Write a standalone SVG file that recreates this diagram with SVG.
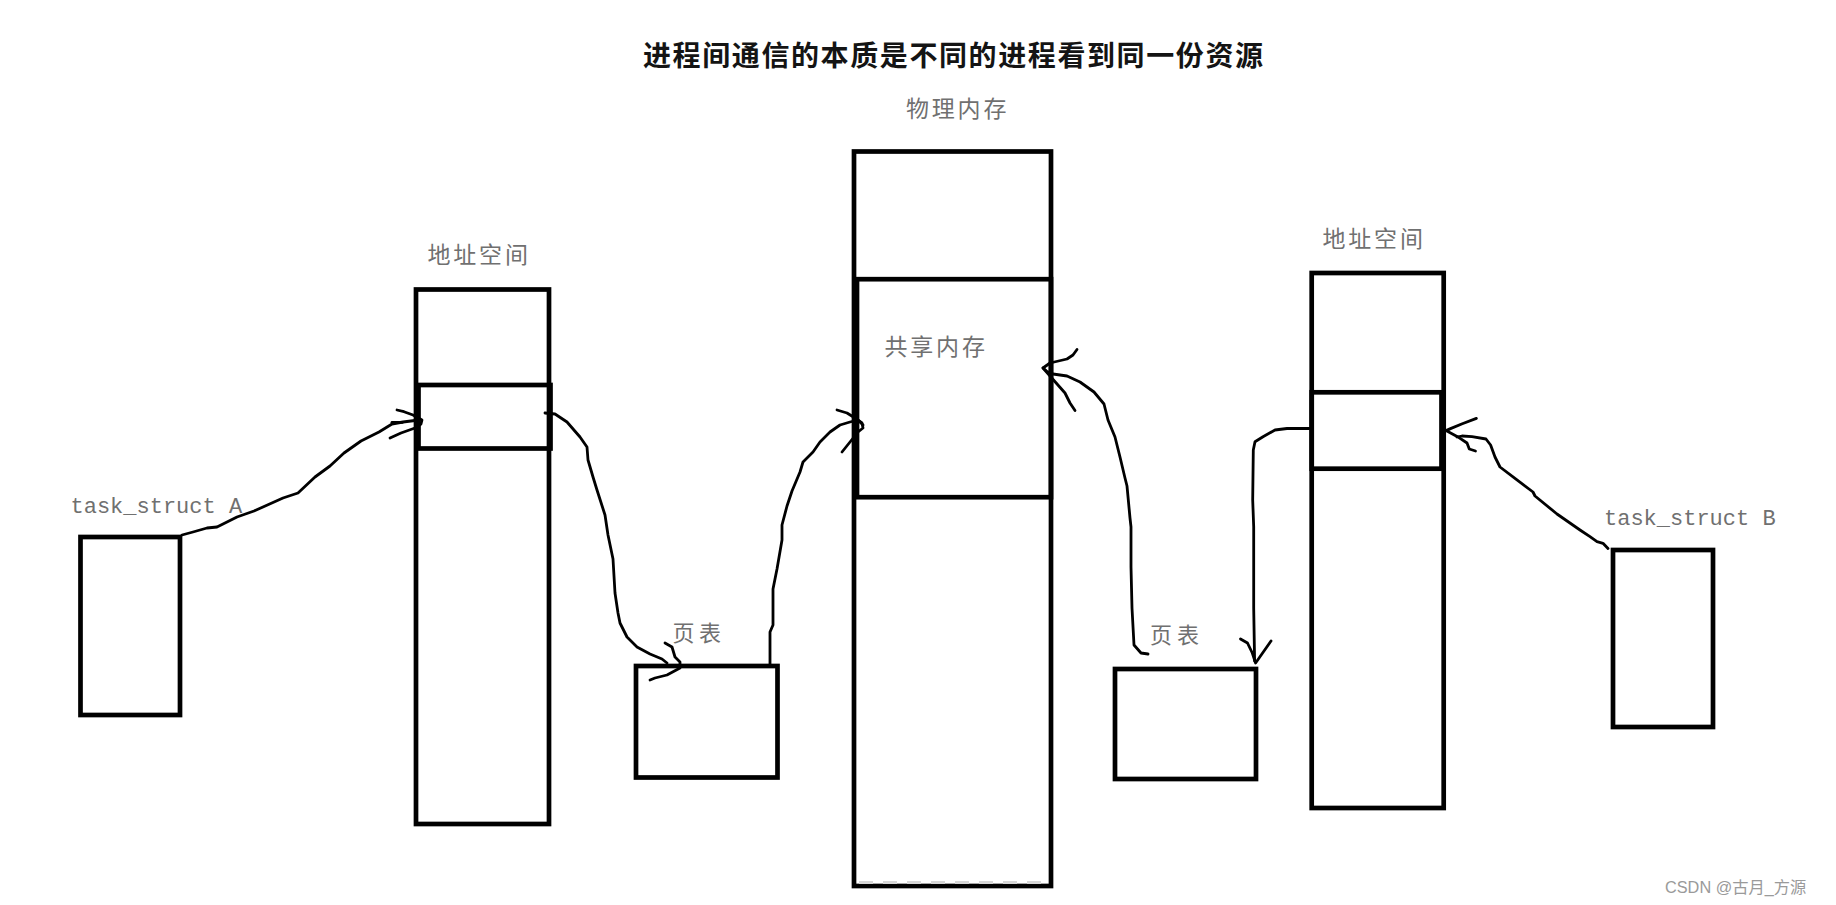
<svg xmlns="http://www.w3.org/2000/svg" width="1836" height="905" viewBox="0 0 1836 905">
<style>
.box{fill:none;stroke:#000;stroke-width:4.7}
.cjk{font-family:"Noto Sans CJK SC","Noto Sans",sans-serif;font-size:23px;fill:#707070;letter-spacing:2.8px}
.mono{font-family:"Liberation Mono","DejaVu Sans Mono",monospace;font-size:22px;fill:#707070}
.title{font-family:"Noto Sans CJK SC","Noto Sans",sans-serif;font-size:28px;font-weight:600;fill:#141414;letter-spacing:1.6px}
.wire{fill:none;stroke:#000;stroke-width:2.8;stroke-linejoin:round;stroke-linecap:round}
.mark{font-family:"Liberation Sans","Noto Sans CJK SC",sans-serif;font-size:16.3px;fill:#9a9a9a}
</style>
<rect x="0" y="0" width="1836" height="905" fill="#fff"/>

<text class="title" x="643" y="66">进程间通信的本质是不同的进程看到同一份资源</text>

<g id="task-a">
  <rect class="box" x="80.5" y="537" width="99.5" height="178"/>
  <text class="mono" x="70.5" y="513">task_struct A</text>
</g>

<g id="addr-a">
  <rect class="box" x="416" y="289.5" width="133" height="534.5"/>
  <rect class="box" x="418.5" y="385" width="132" height="63.5"/>
  <text class="cjk" x="427.5" y="262.7">地址空间</text>
</g>

<g id="page-a">
  <rect class="box" x="636" y="666" width="141.5" height="111.5"/>
  <text class="cjk" x="672.5" y="641" style="font-size:22px;letter-spacing:4.4px">页表</text>
</g>

<g id="phys-mem">
  <rect class="box" x="854" y="151.5" width="197" height="734.5"/>
  <rect class="box" x="857" y="279.2" width="194" height="218"/>
  <line x1="859" y1="882.5" x2="1047" y2="882.5" stroke="#d6d6d6" stroke-width="3" stroke-dasharray="14 10"/>
  <text class="cjk" x="906" y="117">物理内存</text>
  <text class="cjk" x="884.5" y="354.5">共享内存</text>
</g>

<g id="page-b">
  <rect class="box" x="1115" y="669" width="141" height="110"/>
  <text class="cjk" x="1150" y="643" style="font-size:22px;letter-spacing:5px">页表</text>
</g>

<g id="addr-b">
  <rect class="box" x="1311.7" y="273" width="132" height="535"/>
  <rect class="box" x="1311.7" y="392.3" width="129.8" height="76.4"/>
  <text class="cjk" x="1322.5" y="247">地址空间</text>
</g>

<g id="task-b">
  <rect class="box" x="1613" y="550" width="100" height="177"/>
  <text class="mono" x="1604" y="525">task_struct B</text>
</g>

<g id="connectors">
  <path class="wire" d="M182,535 L193,532 L207,528 L217,527 L237,517 L254,511 L283,498 L298,493 L315,477 L330,466 L344,453 L361,441 L379,432 L392,424 L403,422 L419,420"/>
  <path class="wire" d="M397,410 L404,411.7 L413,415 L422,420 L421,424 L415,428 L401,433 L390,438"/>
  <path class="wire" d="M392,422.3 L402.5,422.3"/>

  <path class="wire" d="M545,413 L555,414 L567,422 L580,437 L587,447 L588,460 L593,477 L597,490 L605,515 L608,535 L613,559 L615,593 L618,613 L620,623 L627,637 L637,647 L650,654 L662,659 L667,663"/>
  <path class="wire" d="M665,643 L672,647 L675,657 L680,662 L680,668 L667,675 L655,678 L650,680"/>

  <path class="wire" d="M770,664 L770,632 L773,625 L773,589 L777,569 L782,540 L782,525 L787,506 L792,491 L800,472 L803,462 L813,452 L820,442 L830,432 L840,425 L850,422 L858,420 L863,425"/>
  <path class="wire" d="M837,410 L847,413 L855,418 L862,423 L863,428 L858,432 L850,442 L842,452"/>

  <path class="wire" d="M1148,654 L1141,653 L1134,645 L1132,608 L1131,567 L1131,527 L1130,518 L1127,486 L1125,478 L1120,457 L1115,437 L1108,420 L1104,404 L1094,392 L1080,382 L1067,376 L1053,374 L1047,371.5 L1043,368"/>
  <path class="wire" d="M1077,349.5 L1073,355 L1067,359 L1050,363 L1043,368 L1050,376 L1065,393 L1070,403 L1075,410.5"/>

  <path class="wire" d="M1309,428.5 L1287,428.5 L1275,430 L1263,436.7 L1255,441.7 L1253.3,450 L1252.7,500 L1253.7,527 L1253.7,608 L1254.6,661"/>
  <path class="wire" d="M1240.5,639 L1247.5,643 L1252.3,653 L1255.6,663 L1264,651 L1271,641"/>

  <path class="wire" d="M1608,548.5 L1603,543.3 L1597,541.7 L1590,536.7 L1580,530 L1557,514 L1535,496 L1533,492 L1514,477.6 L1500,467 L1495,457 L1490.6,445 L1486,439 L1472,436.7 L1462,436 L1457,437"/>
  <path class="wire" d="M1476.4,418.4 L1462.3,423.7 L1450.5,428.6 L1446,430.6 L1457.5,436.7 L1467,443 L1469.3,449 L1475.5,451"/>
</g>

<text class="mark" x="1665" y="893">CSDN @古月_方源</text>
</svg>
